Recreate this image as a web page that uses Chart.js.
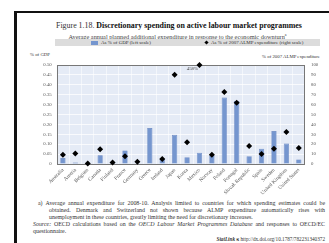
<!DOCTYPE html>
<html><head><meta charset="utf-8">
<script src="https://cdn.jsdelivr.net/npm/chart.js@4/dist/chart.umd.min.js"></script>
<style>
html,body{margin:0;padding:0;background:#fff;}
body{width:329px;height:243px;position:relative;overflow:hidden;font-family:"Liberation Serif","DejaVu Serif",serif;color:#222;}
.abs{position:absolute;white-space:nowrap;}
.fn{position:absolute;font-size:5.9px;line-height:7px;color:#333;text-align:justify;text-align-last:justify;white-space:nowrap;}
</style></head><body>
<div class="abs" style="left:14px;top:11px;width:315px;height:2px;background:#111"></div>
<div class="abs" style="left:14px;top:11px;width:3px;height:232px;background:#111"></div>
<div class="abs" style="left:0;width:358px;top:20.5px;text-align:center;font-size:7.9px;line-height:9px;color:#333;">Figure 1.18. <b style="color:#111">Discretionary spending on active labour market programmes</b></div>
<div class="abs" style="left:0;width:355px;top:30.5px;text-align:center;font-size:6.3px;line-height:7px;color:#444;">Average annual planned additional expenditure in response to the economic downturn<sup style="font-size:4px;">a</sup></div>
<div class="abs" style="left:55px;top:39px;width:265px;height:7px;background:#dcdcdc"></div>
<div class="abs" style="left:91px;top:40.5px;width:7px;height:4px;background:#7596cf"></div>
<div class="abs" style="left:101px;top:39.5px;font-size:5px;line-height:6px;color:#333;">As % of GDP (left scale)</div>
<div class="abs" style="left:205px;top:40.6px;width:3px;height:3px;background:#000;transform:rotate(45deg)"></div>
<div class="abs" style="left:211px;top:39.5px;font-size:5px;line-height:6px;color:#333;">As % of 2007 ALMP expenditure (right scale)</div>
<div class="abs" style="left:30px;top:51.5px;font-size:4.8px;line-height:6px;color:#333;">% of GDP</div>
<div class="abs" style="right:9px;top:53.5px;font-size:4.8px;line-height:6px;color:#333;">% of 2007 ALMP expenditure</div>
<canvas id="c" width="309" height="142" style="position:absolute;left:20px;top:56px;width:309px;height:142px;"></canvas>
<div class="fn" style="left:38px;top:199.5px;width:287px;">a)&nbsp;Average annual expenditure for 2008-10. Analysis limited to countries for which spending estimates could be</div>
<div class="fn" style="left:49px;top:206.5px;width:276px;">obtained. Denmark and Switzerland not shown because ALMP expenditure automatically rises with</div>
<div class="fn" style="left:49px;top:213.5px;text-align-last:left;">unemployment in these countries, greatly limiting the need for discretionary increases.</div>
<div class="fn" style="left:33px;top:221px;width:292px;"><i>Source:</i> OECD calculations based on the <i>OECD Labour Market Programmes Database</i> and responses to OECD/EC</div>
<div class="fn" style="left:33px;top:228px;text-align-last:left;">questionnaire.</div>
<div class="fn" style="right:4px;top:236px;text-align-last:left;font-size:5.2px;"><b><i>StatLink</i></b> <b>ꜱ</b> http://dx.doi.org/10.1787/782231340372</div>
<script>
const categories = ["Australia","Austria","Belgium","Canada","Finland","France","Germany","Greece","Ireland","Japan","Korea","Mexico","Norway","Poland","Portugal","Slovak Republic","Spain","Sweden","United Kingdom","United States"];
const gdpShare = [0.030,0.008,0.001,0.044,0.006,0.068,0.002,0.181,0.026,0.147,0.034,0.057,0.044,0.335,0.318,0.039,0.077,0.166,0.103,0.023];
const almpShare = [9.4,10.6,0.6,14.8,1.6,7.7,2.2,null,5.1,90.0,22.0,100,9.4,72.6,61.7,18.1,10.0,15.5,32.2,16.2];
const almpNotes = ["","","","","","","","","","","","458%","","","","","","","",""];
const leftTicks = [0,0.05,0.10,0.15,0.20,0.25,0.30,0.35,0.40,0.45,0.50];
const rightTicks = [0,10,20,30,40,50,60,70,80,90,100];

const FONT = "'Liberation Serif','DejaVu Serif',serif";
const bgPlugin = {
  id:'bg',
  beforeDraw(chart){
    const a = chart.chartArea, ctx = chart.ctx;
    ctx.save(); ctx.fillStyle = '#e5ebf6'; ctx.fillRect(a.left,a.top,a.right-a.left,a.bottom-a.top); ctx.restore();
  },
  beforeDatasetsDraw(chart){
    const a = chart.chartArea, ctx = chart.ctx;
    ctx.save(); ctx.strokeStyle = '#777'; ctx.lineWidth = 1;
    ctx.strokeRect(Math.round(a.left)+0.5,Math.round(a.top)+0.5,Math.round(a.right-a.left)-1,Math.round(a.bottom-a.top));
    ctx.restore();
  },
  afterDatasetsDraw(chart){
    const ctx = chart.ctx, meta = chart.getDatasetMeta(1);
    ctx.save(); ctx.font = "4.8px " + FONT; ctx.fillStyle = '#444'; ctx.textAlign = 'right'; ctx.textBaseline = 'middle';
    almpNotes.forEach((t,i)=>{ if(t){ const p = meta.data[i]; ctx.fillText(t, p.x-1.5, p.y+4); } });
    ctx.restore();
  }
};
new Chart(document.getElementById('c'), {
  data:{
    labels:categories,
    datasets:[
      {type:'bar', label:'As % of GDP (left scale)', data:gdpShare, yAxisID:'y', xAxisID:'x',
       backgroundColor:'#7596cf', borderColor:'#5d7dbb', borderWidth:0.6, barPercentage:0.42, categoryPercentage:1, order:1},
      {type:'scatter', label:'As % of 2007 ALMP expenditure (right scale)', data:almpShare, yAxisID:'y2', xAxisID:'x',
       pointStyle:'rectRot', pointRadius:3, backgroundColor:'#000', borderColor:'#000', borderWidth:0, showLine:false, clip:false, order:0}
    ]
  },
  options:{
    responsive:false, animation:false, devicePixelRatio:1,
    layout:{padding:{top:4.7,left:0,right:0,bottom:0}},
    plugins:{legend:{display:false}, tooltip:{enabled:false}},
    scales:{
      x:{type:'category', offset:true,
         grid:{color:'rgba(255,255,255,0.9)', lineWidth:0.6, offset:true, drawTicks:false},
         border:{display:false},
         ticks:{autoSkip:false, maxRotation:45, minRotation:45, padding:3, color:'#555', font:{family:FONT, size:5.2}},
         afterFit(s){ s.height = 34; }},
      y:{position:'left', min:0, max:0.5,
         afterBuildTicks(s){ s.ticks = leftTicks.map(v=>({value:v})); },
         grid:{color:'rgba(255,255,255,0.95)', lineWidth:0.8, drawTicks:false},
         border:{display:false},
         ticks:{padding:5, color:'#555', font:{family:FONT, size:4.8}, callback:v=> v===0 ? '0' : v.toFixed(2)},
         afterFit(s){ s.width = 36.7; }},
      y2:{position:'right', min:0, max:100,
         afterBuildTicks(s){ s.ticks = rightTicks.map(v=>({value:v})); },
         grid:{display:false, drawTicks:false},
         border:{display:false},
         ticks:{padding:6, color:'#555', font:{family:FONT, size:4.8}},
         afterFit(s){ s.width = 24; }}
    }
  },
  plugins:[bgPlugin]
});
</script>
</body></html>
